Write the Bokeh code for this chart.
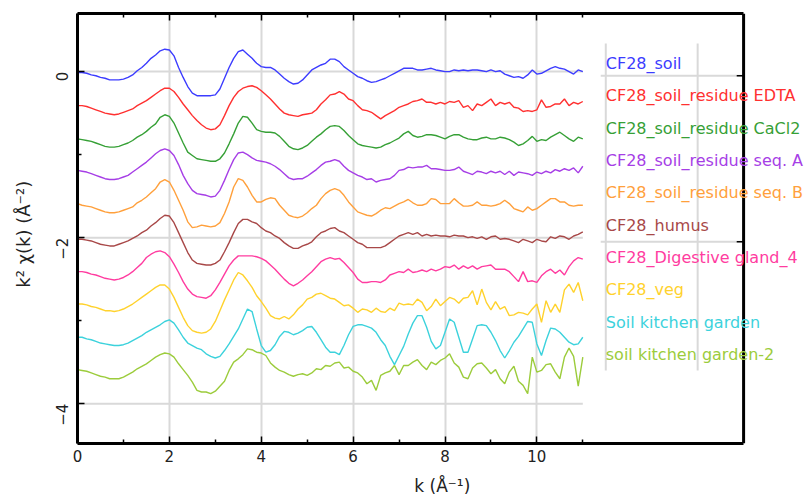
import math
from bokeh.plotting import figure
from bokeh.models import Range1d, FixedTicker, LinearAxis, ColumnDataSource, LabelSet, Span
from bokeh.core.properties import value
from bokeh.embed import file_html
from bokeh.resources import INLINE

# ---------------- data (k^2 chi(k), already offset as plotted) ----------------
K_STEP = 0.1  # sampling step in k (1/Angstrom), k runs 0 .. 11

soil = [-0.01,-0.01,-0.02,-0.04,-0.05,-0.07,-0.08,-0.10,-0.10,-0.10,
        -0.09,-0.07,-0.04,0.01,0.05,0.10,0.16,0.20,0.25,0.27,
        0.26,0.19,0.05,-0.07,-0.18,-0.26,-0.29,-0.29,-0.29,-0.29,
        -0.28,-0.21,-0.08,0.05,0.16,0.24,0.26,0.21,0.16,0.10,
        0.06,0.05,0.05,0.02,-0.03,-0.08,-0.12,-0.15,-0.14,-0.10,
        -0.04,0.02,0.05,0.08,0.10,0.15,0.15,0.12,0.06,0.02,
        -0.02,-0.06,-0.08,-0.11,-0.13,-0.12,-0.10,-0.08,-0.05,-0.02,
        0.01,0.04,0.04,0.04,0.02,0.02,0.03,0.04,0.02,0.01,
        0.00,0.00,0.02,0.01,0.02,0.01,0.02,0.02,0.01,0.00,
        0.02,0.00,0.01,-0.03,-0.05,-0.07,-0.06,-0.08,-0.04,0.02,
        -0.03,-0.02,0.01,0.04,0.06,0.04,0.03,0.00,-0.03,0.02,0.00]

residue_edta = [-0.41,-0.41,-0.42,-0.44,-0.46,-0.48,-0.50,-0.51,-0.52,-0.51,
        -0.49,-0.47,-0.45,-0.41,-0.38,-0.35,-0.31,-0.27,-0.23,-0.20,
        -0.20,-0.24,-0.31,-0.39,-0.46,-0.53,-0.59,-0.64,-0.68,-0.70,
        -0.69,-0.64,-0.53,-0.41,-0.31,-0.24,-0.20,-0.18,-0.17,-0.19,
        -0.23,-0.28,-0.33,-0.39,-0.45,-0.50,-0.52,-0.53,-0.54,-0.52,
        -0.51,-0.50,-0.46,-0.39,-0.34,-0.28,-0.27,-0.24,-0.27,-0.33,
        -0.35,-0.41,-0.46,-0.47,-0.49,-0.53,-0.57,-0.53,-0.50,-0.47,
        -0.43,-0.41,-0.39,-0.36,-0.35,-0.33,-0.37,-0.37,-0.39,-0.37,
        -0.39,-0.36,-0.37,-0.35,-0.43,-0.41,-0.47,-0.39,-0.41,-0.37,
        -0.33,-0.41,-0.37,-0.39,-0.37,-0.43,-0.44,-0.48,-0.47,-0.48,
        -0.46,-0.34,-0.43,-0.42,-0.39,-0.39,-0.33,-0.41,-0.37,-0.39,-0.36]

residue_cacl2 = [-0.81,-0.82,-0.83,-0.84,-0.86,-0.88,-0.90,-0.91,-0.91,-0.90,
        -0.88,-0.86,-0.83,-0.79,-0.76,-0.72,-0.67,-0.63,-0.55,-0.52,
        -0.54,-0.62,-0.74,-0.86,-0.97,-1.01,-1.05,-1.06,-1.07,-1.08,
        -1.08,-1.05,-0.98,-0.87,-0.75,-0.62,-0.54,-0.55,-0.62,-0.70,
        -0.72,-0.73,-0.73,-0.74,-0.78,-0.84,-0.90,-0.93,-0.94,-0.92,
        -0.89,-0.84,-0.79,-0.75,-0.70,-0.66,-0.65,-0.66,-0.71,-0.77,
        -0.82,-0.87,-0.89,-0.90,-0.91,-0.92,-0.91,-0.88,-0.86,-0.83,
        -0.80,-0.75,-0.72,-0.77,-0.79,-0.78,-0.76,-0.76,-0.77,-0.79,
        -0.81,-0.78,-0.76,-0.76,-0.79,-0.81,-0.82,-0.82,-0.80,-0.79,
        -0.81,-0.81,-0.79,-0.80,-0.82,-0.85,-0.89,-0.87,-0.83,-0.78,
        -0.84,-0.82,-0.83,-0.79,-0.76,-0.73,-0.77,-0.81,-0.84,-0.79,-0.81]

residue_seq_a = [-1.19,-1.20,-1.21,-1.23,-1.25,-1.27,-1.29,-1.30,-1.30,-1.29,
        -1.27,-1.25,-1.21,-1.17,-1.13,-1.09,-1.04,-0.99,-0.95,-0.93,
        -0.95,-1.01,-1.12,-1.25,-1.35,-1.43,-1.47,-1.48,-1.49,-1.51,
        -1.50,-1.43,-1.31,-1.18,-1.06,-0.98,-0.97,-1.00,-1.04,-1.07,
        -1.08,-1.09,-1.11,-1.14,-1.18,-1.23,-1.28,-1.30,-1.29,-1.29,
        -1.26,-1.22,-1.18,-1.13,-1.09,-1.08,-1.06,-1.08,-1.14,-1.19,
        -1.22,-1.25,-1.27,-1.30,-1.29,-1.33,-1.31,-1.30,-1.29,-1.25,
        -1.19,-1.18,-1.15,-1.16,-1.15,-1.15,-1.13,-1.17,-1.17,-1.18,
        -1.19,-1.19,-1.18,-1.15,-1.20,-1.22,-1.24,-1.20,-1.21,-1.23,
        -1.20,-1.22,-1.20,-1.24,-1.20,-1.25,-1.21,-1.22,-1.23,-1.25,
        -1.21,-1.23,-1.20,-1.22,-1.18,-1.20,-1.17,-1.19,-1.16,-1.22,-1.14]

residue_seq_b = [-1.59,-1.61,-1.62,-1.63,-1.65,-1.67,-1.69,-1.70,-1.70,-1.69,
        -1.67,-1.65,-1.63,-1.58,-1.55,-1.51,-1.46,-1.41,-1.33,-1.30,
        -1.33,-1.43,-1.55,-1.67,-1.81,-1.88,-1.87,-1.85,-1.86,-1.87,
        -1.86,-1.82,-1.71,-1.57,-1.39,-1.29,-1.31,-1.39,-1.49,-1.57,
        -1.57,-1.54,-1.52,-1.53,-1.61,-1.67,-1.73,-1.75,-1.76,-1.74,
        -1.70,-1.65,-1.61,-1.53,-1.47,-1.43,-1.41,-1.43,-1.49,-1.57,
        -1.63,-1.69,-1.71,-1.73,-1.74,-1.71,-1.67,-1.64,-1.65,-1.62,
        -1.59,-1.57,-1.54,-1.58,-1.61,-1.61,-1.59,-1.53,-1.54,-1.59,
        -1.59,-1.59,-1.53,-1.58,-1.62,-1.62,-1.61,-1.57,-1.61,-1.61,
        -1.62,-1.61,-1.59,-1.55,-1.59,-1.65,-1.67,-1.69,-1.63,-1.67,
        -1.65,-1.61,-1.57,-1.53,-1.53,-1.57,-1.57,-1.61,-1.62,-1.61,-1.61]

humus = [-2.02,-2.02,-2.03,-2.04,-2.06,-2.08,-2.09,-2.10,-2.10,-2.08,
        -2.06,-2.04,-2.01,-1.98,-1.94,-1.91,-1.86,-1.82,-1.77,-1.73,
        -1.74,-1.82,-1.94,-2.06,-2.18,-2.27,-2.31,-2.32,-2.33,-2.33,
        -2.31,-2.27,-2.17,-2.06,-1.94,-1.83,-1.78,-1.78,-1.81,-1.83,
        -1.88,-1.92,-1.94,-1.98,-2.01,-2.06,-2.10,-2.13,-2.13,-2.10,
        -2.08,-2.05,-1.99,-1.94,-1.92,-1.89,-1.88,-1.92,-1.94,-1.98,
        -2.02,-2.06,-2.08,-2.12,-2.12,-2.12,-2.12,-2.10,-2.06,-2.02,
        -1.98,-1.96,-1.94,-1.96,-1.94,-1.98,-1.96,-1.98,-1.97,-1.98,
        -1.98,-1.99,-1.97,-1.98,-1.98,-2.00,-1.99,-2.01,-1.99,-2.02,
        -1.99,-1.98,-2.02,-2.01,-2.02,-2.04,-2.06,-2.02,-2.04,-2.06,
        -2.02,-2.04,-2.05,-1.99,-2.01,-1.98,-1.99,-2.02,-1.98,-1.96,-1.93]

digestive_gland = [-2.41,-2.41,-2.42,-2.44,-2.45,-2.47,-2.49,-2.50,-2.51,-2.50,
        -2.48,-2.45,-2.41,-2.36,-2.31,-2.24,-2.20,-2.17,-2.16,-2.18,
        -2.23,-2.32,-2.42,-2.53,-2.62,-2.68,-2.71,-2.72,-2.73,-2.70,
        -2.63,-2.54,-2.44,-2.34,-2.27,-2.22,-2.22,-2.22,-2.22,-2.23,
        -2.25,-2.28,-2.33,-2.38,-2.44,-2.50,-2.55,-2.58,-2.55,-2.51,
        -2.46,-2.41,-2.35,-2.29,-2.26,-2.24,-2.26,-2.25,-2.30,-2.36,
        -2.42,-2.50,-2.54,-2.54,-2.53,-2.53,-2.54,-2.51,-2.45,-2.43,
        -2.41,-2.42,-2.38,-2.42,-2.41,-2.39,-2.41,-2.38,-2.40,-2.38,
        -2.35,-2.36,-2.33,-2.38,-2.34,-2.37,-2.34,-2.38,-2.35,-2.34,
        -2.33,-2.38,-2.38,-2.38,-2.41,-2.47,-2.53,-2.41,-2.53,-2.52,
        -2.54,-2.46,-2.41,-2.38,-2.43,-2.39,-2.45,-2.35,-2.28,-2.24,-2.26]

veg = [-2.80,-2.80,-2.81,-2.83,-2.84,-2.86,-2.88,-2.88,-2.89,-2.88,
        -2.86,-2.83,-2.80,-2.76,-2.72,-2.68,-2.64,-2.60,-2.57,-2.57,
        -2.62,-2.72,-2.84,-2.96,-3.06,-3.12,-3.14,-3.15,-3.14,-3.10,
        -3.01,-2.88,-2.75,-2.63,-2.51,-2.42,-2.45,-2.52,-2.60,-2.70,
        -2.77,-2.85,-2.94,-2.97,-2.98,-2.95,-2.98,-2.93,-2.86,-2.81,
        -2.74,-2.72,-2.68,-2.67,-2.70,-2.73,-2.74,-2.78,-2.82,-2.81,
        -2.85,-2.90,-2.86,-2.87,-2.90,-2.85,-2.89,-2.90,-2.85,-2.88,
        -2.79,-2.81,-2.80,-2.81,-2.74,-2.78,-2.88,-2.83,-2.74,-2.82,
        -2.77,-2.72,-2.74,-2.79,-2.73,-2.72,-2.64,-2.81,-2.62,-2.78,
        -2.87,-2.77,-2.86,-2.83,-2.94,-2.93,-2.90,-2.91,-2.93,-2.86,
        -2.80,-3.02,-2.76,-2.90,-2.80,-2.90,-2.63,-2.56,-2.66,-2.54,-2.76]

kitchen_garden = [-3.20,-3.20,-3.22,-3.23,-3.25,-3.27,-3.28,-3.29,-3.30,-3.30,
        -3.29,-3.27,-3.24,-3.21,-3.18,-3.14,-3.11,-3.08,-3.05,-3.01,
        -2.99,-3.03,-3.11,-3.20,-3.27,-3.30,-3.33,-3.35,-3.40,-3.43,
        -3.45,-3.43,-3.36,-3.28,-3.19,-3.10,-2.98,-2.86,-2.89,-3.10,
        -3.30,-3.38,-3.36,-3.29,-3.19,-3.13,-3.14,-3.17,-3.15,-3.12,
        -3.08,-3.07,-3.14,-3.23,-3.32,-3.38,-3.38,-3.41,-3.30,-3.17,
        -3.07,-3.05,-3.05,-3.07,-3.09,-3.14,-3.23,-3.30,-3.43,-3.53,
        -3.42,-3.31,-3.16,-3.03,-2.94,-2.94,-3.08,-3.25,-3.34,-3.30,
        -3.14,-2.98,-3.02,-3.20,-3.38,-3.38,-3.22,-3.06,-3.05,-3.06,
        -3.14,-3.24,-3.36,-3.45,-3.36,-3.26,-3.19,-3.10,-3.01,-3.02,
        -3.28,-3.42,-3.24,-3.09,-3.10,-3.14,-3.20,-3.26,-3.29,-3.28,-3.20]

kitchen_garden_2 = [-3.59,-3.60,-3.61,-3.63,-3.65,-3.67,-3.68,-3.70,-3.70,-3.70,
        -3.68,-3.65,-3.62,-3.58,-3.55,-3.52,-3.48,-3.44,-3.41,-3.39,
        -3.40,-3.44,-3.52,-3.59,-3.66,-3.74,-3.84,-3.86,-3.86,-3.88,
        -3.85,-3.79,-3.73,-3.60,-3.50,-3.46,-3.41,-3.34,-3.35,-3.38,
        -3.39,-3.42,-3.51,-3.56,-3.60,-3.62,-3.65,-3.67,-3.65,-3.64,
        -3.66,-3.63,-3.58,-3.59,-3.54,-3.55,-3.51,-3.50,-3.57,-3.56,
        -3.61,-3.63,-3.68,-3.76,-3.72,-3.84,-3.66,-3.63,-3.61,-3.54,
        -3.65,-3.54,-3.54,-3.50,-3.47,-3.54,-3.59,-3.50,-3.53,-3.48,
        -3.45,-3.40,-3.51,-3.56,-3.68,-3.70,-3.57,-3.52,-3.51,-3.57,
        -3.64,-3.59,-3.70,-3.76,-3.62,-3.55,-3.73,-3.78,-3.88,-3.44,
        -3.62,-3.60,-3.53,-3.52,-3.62,-3.70,-3.44,-3.33,-3.43,-3.79,-3.44]

series_names = ["CF28_soil", "CF28_soil_residue EDTA", "CF28_soil_residue CaCl2",
                "CF28_soil_residue seq. A", "CF28_soil_residue seq. B", "CF28_humus",
                "CF28_Digestive gland_4", "CF28_veg", "Soil kitchen garden",
                "soil kitchen garden-2"]
series_values = [soil, residue_edta, residue_cacl2, residue_seq_a, residue_seq_b,
                 humus, digestive_gland, veg, kitchen_garden, kitchen_garden_2]
series_colors = ["#3c3cff", "#ff3030", "#36a036", "#a63ee6", "#ffa03c",
                 "#a84848", "#ff3ca0", "#ffd22d", "#3cd2dc", "#9ccc3c"]

x_major_ticks = [0, 2, 4, 6, 8, 10]
x_minor_ticks = [1, 3, 5, 7, 9, 11]
y_major_ticks = [0, -2, -4]
y_minor_ticks = [-1, -3]

k = [round(i * K_STEP, 1) for i in range(len(soil))]

# ---------------- figure ----------------
FONT = "DejaVu Sans"
GRID = "#d9d9d9"
BOX_RIGHT = 14.5      # right edge of the drawn box (k units)
Y_LO, Y_HI = -4.48, 0.70

p = figure(width=812, height=498, x_range=Range1d(0, 16.0), y_range=Range1d(Y_LO, Y_HI),
           output_backend="svg", toolbar_location=None,
           min_border_left=77, min_border_right=0, min_border_top=13, min_border_bottom=55)
p.background_fill_color = "white"
p.border_fill_color = "white"
p.outline_line_color = None

p.xgrid.ticker = FixedTicker(ticks=x_major_ticks[1:])
p.xgrid.grid_line_color = GRID
p.xgrid.grid_line_width = 2
p.ygrid.visible = False

# horizontal grid only over the data range
p.segment(x0=[0] * len(y_major_ticks), y0=y_major_ticks,
          x1=[k[-1]] * len(y_major_ticks), y1=y_major_ticks,
          line_color=GRID, line_width=2)

# legend panel grid remnants
LEG_X = 11.5
LEG_Y0 = 0.10
LEG_DY = 0.39
PANEL_H = [-0.05, -2.05]
p.segment(x0=[LEG_X, LEG_X + 2.0], y0=[0.34, 0.34], x1=[LEG_X, LEG_X + 2.0], y1=[-3.60, -3.60],
          line_color=GRID, line_width=2)
p.segment(x0=[11.39] * 2, y0=PANEL_H, x1=[BOX_RIGHT] * 2, y1=PANEL_H,
          line_color=GRID, line_width=2)

for vals, col in zip(series_values, series_colors):
    p.line(k, vals, line_color=col, line_width=1.4)


def style_axis(ax, labels=True):
    ax.axis_line_color = "black"
    ax.axis_line_width = 3
    ax.major_tick_in = 7
    ax.major_tick_out = 0
    ax.minor_tick_in = 4
    ax.minor_tick_out = 0
    ax.major_tick_line_color = "black"
    ax.minor_tick_line_color = "black"
    ax.major_tick_line_width = 1.5
    ax.minor_tick_line_width = 1.5
    ax.major_label_text_font = FONT
    ax.major_label_text_color = "#222222"
    ax.major_label_text_font_size = "15px"
    if not labels:
        ax.major_label_text_font_size = "0px"
        ax.major_label_text_color = None
        ax.major_label_standoff = 0
    ax.axis_label_text_font = FONT
    ax.axis_label_text_font_style = "normal"
    ax.axis_label_text_color = "#222222"


xb = p.xaxis[0]
xb.ticker = FixedTicker(ticks=x_major_ticks, minor_ticks=x_minor_ticks)
xb.bounds = (0, BOX_RIGHT)
style_axis(xb)
xb.axis_label = "k  (Å⁻¹)"
xb.axis_label_text_font_size = "17px"
xb.major_label_standoff = 6
xb.axis_label_standoff = 11

yl = p.yaxis[0]
yl.ticker = FixedTicker(ticks=y_major_ticks, minor_ticks=y_minor_ticks)
style_axis(yl)
yl.major_label_orientation = math.pi / 2
yl.axis_label = "k²  χ(k)  (Å⁻²)"
yl.axis_label_text_font_size = "18px"
yl.major_label_standoff = 15
yl.axis_label_standoff = 14

xa = LinearAxis(ticker=FixedTicker(ticks=x_major_ticks, minor_ticks=x_minor_ticks),
                bounds=(0, BOX_RIGHT))
style_axis(xa, labels=False)
p.add_layout(xa, "above")

# right edge of the box and its two ticks
p.add_layout(Span(location=BOX_RIGHT, dimension="height", line_color="black", line_width=3))
p.segment(x0=[BOX_RIGHT - 0.15] * 2, y0=PANEL_H, x1=[BOX_RIGHT] * 2, y1=PANEL_H,
          line_color="black", line_width=1.5)

# legend text
src = ColumnDataSource(dict(
    x=[LEG_X] * len(series_names),
    y=[LEG_Y0 - i * LEG_DY for i in range(len(series_names))],
    text=series_names,
    color=series_colors,
))
labels = LabelSet(x="x", y="y", text="text", text_color="color", source=src,
                  text_font=value(FONT), text_font_size=value("16px"),
                  text_baseline="middle", text_align="left")
p.add_layout(labels)

open("out.html", "w").write(file_html(p, INLINE))
